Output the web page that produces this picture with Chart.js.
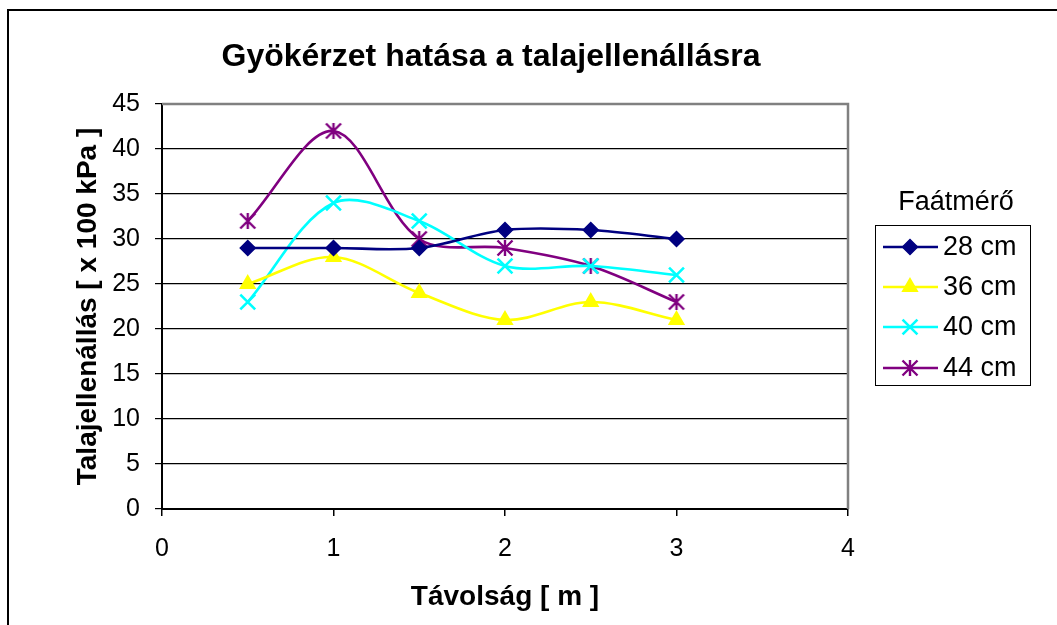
<!DOCTYPE html>
<html>
<head>
<meta charset="utf-8">
<script src="https://cdn.jsdelivr.net/npm/chart.js@4/dist/chart.umd.min.js"></script>
<style>
html,body{margin:0;padding:0;background:#fff;}
#wrap{width:1057px;height:625px;position:relative;}
</style>
</head>
<body>
<div id="wrap"><canvas id="c" width="1057" height="625"></canvas></div>
<script>
const chartTitle = "Gyökérzet hatása a talajellenállásra";
const xTitle = "Távolság [ m ]";
const yTitle = "Talajellenállás [ x 100 kPa ]";
const legendTitle = "Faátmérő";
const distances = [0.5, 1, 1.5, 2, 2.5, 3];
const seriesNames = ["28 cm", "36 cm", "40 cm", "44 cm"];
const s28 = [29, 29, 29, 31, 31, 30];
const s36 = [25, 28, 24, 21, 23, 21];
const s40 = [23, 34, 32, 27, 27, 26];
const s44 = [32, 42, 30, 29, 27, 23];
const xTicks = [0, 1, 2, 3, 4];
const yTicks = [0, 5, 10, 15, 20, 25, 30, 35, 40, 45];

const FONT = "'Liberation Sans', Arial, sans-serif";
const pts = arr => distances.map((d, i) => ({x: d, y: arr[i]}));

// asterisk marker: vertical stroke plus an X
function makeAsterisk(color) {
  const c = document.createElement('canvas');
  c.width = 20; c.height = 20;
  const g = c.getContext('2d');
  g.strokeStyle = color;
  g.lineWidth = 2.4;
  g.beginPath();
  g.moveTo(10, 2); g.lineTo(10, 18);
  g.moveTo(2.5, 2.5); g.lineTo(17.5, 17.5);
  g.moveTo(17.5, 2.5); g.lineTo(2.5, 17.5);
  g.stroke();
  return c;
}

const styles = [
  {color: '#000080', pointStyle: 'rectRot', radius: 7.5, bw: 1.5},
  {color: '#FFFF00', pointStyle: 'triangle', radius: 8.5, bw: 1.5},
  {color: '#00FFFF', pointStyle: 'crossRot', radius: 10.5, bw: 2.6},
  {color: '#800080', pointStyle: makeAsterisk('#800080'), radius: 9, bw: 2.2}
];
const values = [s28, s36, s40, s44];

const datasets = values.map((v, i) => ({
  label: seriesNames[i],
  data: pts(v),
  borderColor: styles[i].color,
  backgroundColor: styles[i].color,
  borderWidth: 2.6,
  tension: 0.33,
  pointStyle: styles[i].pointStyle,
  pointRadius: styles[i].radius,
  pointBorderWidth: styles[i].bw,
  pointBackgroundColor: styles[i].color,
  pointBorderColor: styles[i].color
}));

const framePlugin = {
  id: 'frame',
  beforeDraw(chart) {
    const ctx = chart.ctx;
    ctx.save();
    ctx.fillStyle = '#fff';
    ctx.fillRect(0, 0, chart.width, chart.height);
    ctx.strokeStyle = '#000';
    ctx.lineWidth = 2;
    ctx.beginPath();
    ctx.moveTo(8, chart.height + 5);
    ctx.lineTo(8, 10);
    ctx.lineTo(chart.width + 5, 10);
    ctx.stroke();
    ctx.restore();
  },
  beforeDatasetsDraw(chart) {
    const a = chart.chartArea;
    const ctx = chart.ctx;
    ctx.save();
    ctx.strokeStyle = '#808080';
    ctx.lineWidth = 2.5;
    ctx.beginPath();
    ctx.moveTo(a.left, a.top);
    ctx.lineTo(a.right, a.top);
    ctx.lineTo(a.right, a.bottom);
    ctx.stroke();
    ctx.restore();
  },
  afterDraw(chart) {
    const ctx = chart.ctx;
    ctx.save();
    // chart title
    ctx.fillStyle = '#000';
    ctx.font = "bold 32px " + FONT;
    ctx.textAlign = 'center';
    ctx.textBaseline = 'middle';
    ctx.fillText(chartTitle, 491, 57);
    // legend
    ctx.font = "27px " + FONT;
    ctx.fillText(legendTitle, 956, 203);
    ctx.strokeStyle = '#000';
    ctx.lineWidth = 1;
    ctx.strokeRect(875.5, 225.5, 155, 160);
    const rowY = [247, 287, 327, 368];
    chart.data.datasets.forEach((ds, i) => {
      const y = rowY[i];
      ctx.strokeStyle = ds.borderColor;
      ctx.lineWidth = 2.6;
      ctx.beginPath();
      ctx.moveTo(883, y);
      ctx.lineTo(938, y);
      ctx.stroke();
      ctx.fillStyle = ds.pointBackgroundColor;
      ctx.lineWidth = ds.pointBorderWidth;
      Chart.helpers.drawPoint(ctx, {pointStyle: ds.pointStyle, radius: ds.pointRadius, rotation: 0, borderWidth: ds.pointBorderWidth}, 910, y);
      ctx.fillStyle = '#000';
      ctx.textAlign = 'left';
      ctx.textBaseline = 'middle';
      ctx.font = "27px " + FONT;
      ctx.fillText(ds.label, 943, y + 1);
    });
    ctx.restore();
  }
};

new Chart(document.getElementById('c'), {
  type: 'line',
  data: {datasets},
  plugins: [framePlugin],
  options: {
    responsive: false,
    animation: false,
    layout: {padding: {left: 8, top: 104, right: 209, bottom: 0}},
    plugins: {
      legend: {display: false},
      tooltip: {enabled: false},
      title: {display: false}
    },
    scales: {
      x: {
        type: 'linear',
        min: 0, max: 4,
        afterBuildTicks: s => { s.ticks = xTicks.map(v => ({value: v})); },
        afterFit: s => { s.height = 116; },
        ticks: {color: '#000', font: {family: FONT, size: 25}, padding: 18.4, maxRotation: 0},
        grid: {drawOnChartArea: false, drawTicks: true, tickLength: 7, color: '#000', lineWidth: 1.5},
        border: {display: true, color: '#000', width: 2},
        title: {display: true, text: xTitle, color: '#000', font: {family: FONT, size: 28, weight: 'bold'}, padding: {top: 0, bottom: 11.2}}
      },
      y: {
        type: 'linear',
        min: 0, max: 45,
        afterBuildTicks: s => { s.ticks = yTicks.map(v => ({value: v})); },
        afterFit: s => { s.width = 154; },
        ticks: {color: '#000', font: {family: FONT, size: 25}, padding: 15},
        grid: {drawOnChartArea: true, drawTicks: true, tickLength: 7, color: '#000', lineWidth: 1.2},
        border: {display: true, color: '#000', width: 2},
        title: {display: true, text: yTitle, color: '#000', font: {family: FONT, size: 28, weight: 'bold'}, padding: {top: 63.2, bottom: 0}}
      }
    }
  }
});
</script>
</body>
</html>
